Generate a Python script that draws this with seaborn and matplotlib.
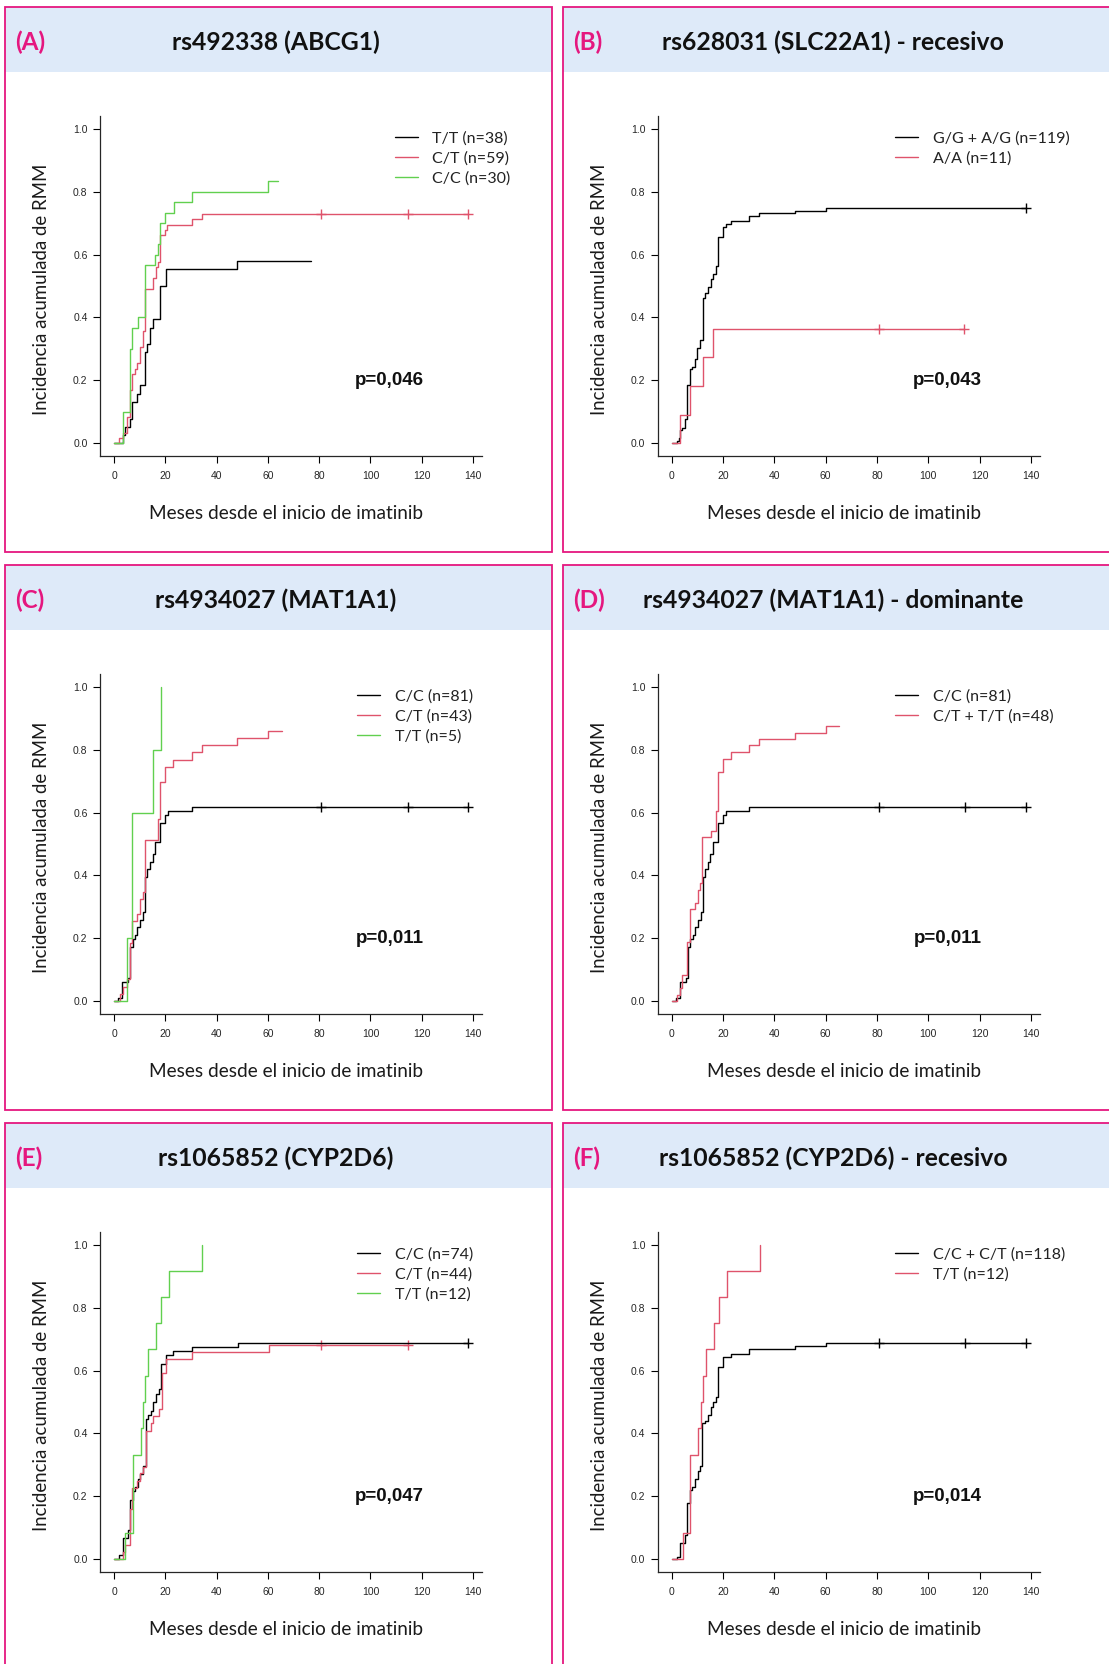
import numpy as np
import matplotlib
matplotlib.use("Agg")
import matplotlib.pyplot as plt
from matplotlib.patches import Rectangle
import seaborn as sns

# Colores (paleta por defecto de R)
NEGRO = "black"
ROJO = "#DF536B"
VERDE = "#61D04F"
ROSA = "#E5177F"
AZUL_CAB = "#DEEAF9"

# ---- Datos leidos de las curvas de incidencia acumulada ----
# (A) rs492338 (ABCG1)
A_TT_time = [0, 3.3, 4.3, 6.1, 7, 8.8, 10.2, 12, 12.7, 13.9, 15, 18, 20.1, 48, 76.7]
A_TT_inc = [0, .026, .053, .079, .132, .158, .184, .289, .316, .368, .395, .5, .553, .579, .579]
A_CT_time = [0, 1.9, 3.6, 5.1, 6.3, 7, 8.1, 9.1, 10.2, 11.2, 12, 15, 16.4, 17.1, 18, 19.8, 20.8, 30.2, 34.3, 138]
A_CT_inc = [0, .017, .034, .085, .17, .22, .237, .254, .305, .356, .492, .525, .56, .576, .661, .678, .695, .712, .729, .729]
A_CT_cens = [80.7, 114.5, 138]
A_CC_time = [0, 3.3, 6.1, 7, 9.2, 12, 16.1, 17.1, 18, 20, 23.3, 30.2, 60.2, 63.9]
A_CC_inc = [0, .1, .3, .367, .4, .567, .6, .633, .7, .733, .767, .8, .833, .833]

# (B) rs628031 (SLC22A1) - recesivo
B_GG_time = [0, 2.1, 2.7, 3, 3.8, 5.1, 6, 6.9, 8, 9.1, 9.9, 11, 12.1, 13, 14, 15.1, 16.1, 17.2, 18, 20,
             21.2, 22.9, 29.9, 34, 48, 60.1, 138]
B_GG_inc = [0, .008, .017, .042, .05, .076, .185, .235, .244, .269, .303, .328, .462, .479, .496, .521, .538,
            .563, .655, .689, .697, .706, .723, .731, .739, .748, .748]
B_GG_cens = [138]
B_AA_time = [0, 3, 7, 12.1, 16.1, 114]
B_AA_inc = [0, .091, .182, .273, .364, .364]
B_AA_cens = [80.7, 114]

# (C) / (D) rs4934027 (MAT1A1)
C_CC_time = [0, 1.7, 3, 5.4, 6.3, 7.2, 8.1, 9.1, 10.2, 11.2, 12, 12.9, 13.9, 15, 16.1, 18, 20, 21.1, 30.2, 138]
C_CC_inc = [0, .012, .062, .074, .173, .198, .21, .235, .259, .284, .395, .42, .444, .469, .506, .568, .593,
            .605, .617, .617]
C_CC_cens = [80.7, 114.5, 138]
C_CT_time = [0, 2.3, 3.3, 5.1, 6.1, 7, 9.1, 10.2, 11.2, 12, 17, 18, 20, 23, 30.2, 34.3, 48.1, 60.2, 65.6]
C_CT_inc = [0, .023, .047, .07, .186, .256, .279, .326, .349, .512, .581, .698, .744, .767, .791, .814, .837,
            .86, .86]
C_TT_time = [0, 5.1, 7, 15.2, 18.3]
C_TT_inc = [0, .2, .6, .8, 1.0]
D_CTTT_time = [0, 2.1, 3, 4.1, 6, 7, 9.1, 10, 11, 11.9, 15.1, 17.2, 18, 20, 23.1, 30.1, 34, 48, 60.1, 65.2]
D_CTTT_inc = [0, .021, .042, .083, .188, .292, .313, .354, .375, .521, .542, .604, .729, .771, .792, .813,
              .833, .854, .875, .875]

# (E) / (F) rs1065852 (CYP2D6)
E_CC_time = [0, 2.1, 3.3, 5.4, 6.3, 7.3, 8.3, 9.2, 10.2, 11.2, 12.3, 13.2, 14.2, 15.3, 16.4, 17.4, 18.2, 20.1,
             23.1, 30.2, 48.5, 138]
E_CC_inc = [0, .014, .068, .095, .189, .216, .23, .257, .27, .297, .446, .459, .473, .5, .527, .541, .622, .649,
            .662, .676, .689, .689]
E_CC_cens = [138]
E_CT_time = [0, 3.3, 4.4, 6.1, 7, 9.1, 10.2, 11.3, 12.3, 14.3, 15.3, 17.4, 18.5, 20.4, 30.2, 60.5, 114.5]
E_CT_inc = [0, .023, .045, .159, .227, .25, .273, .295, .409, .432, .455, .477, .591, .636, .659, .682, .682]
E_CT_cens = [80.7, 114.5]
TT_time = [0, 4.2, 7.2, 10.3, 11.2, 12.2, 13.2, 16.3, 18.3, 21.3, 34.3]
TT_inc = [0, .083, .333, .417, .5, .583, .667, .75, .833, .917, 1.0]
F_CC_time = [0, 2.1, 3, 5.1, 6, 7, 8, 9.1, 10, 11, 11.9, 13, 14, 15.1, 16.1, 17.2, 18, 20, 23.1, 30.1, 48,
             60.1, 138]
F_CC_inc = [0, .008, .051, .076, .178, .22, .229, .254, .28, .297, .432, .441, .458, .483, .5, .517, .61, .644,
            .653, .669, .678, .686, .686]
F_CC_cens = [80.7, 114.5, 138]

etiquetas = ["(A)", "(B)", "(C)", "(D)", "(E)", "(F)"]
titulos = ["rs492338 (ABCG1)", "rs628031 (SLC22A1) - recesivo",
           "rs4934027 (MAT1A1)", "rs4934027 (MAT1A1) - dominante",
           "rs1065852 (CYP2D6)", "rs1065852 (CYP2D6) - recesivo"]
p_valores = ["p=0,046", "p=0,043", "p=0,011", "p=0,011", "p=0,047", "p=0,014"]

paneles = [
    [("T/T (n=38)", A_TT_time, A_TT_inc, [], NEGRO),
     ("C/T (n=59)", A_CT_time, A_CT_inc, A_CT_cens, ROJO),
     ("C/C (n=30)", A_CC_time, A_CC_inc, [], VERDE)],
    [("G/G + A/G (n=119)", B_GG_time, B_GG_inc, B_GG_cens, NEGRO),
     ("A/A (n=11)", B_AA_time, B_AA_inc, B_AA_cens, ROJO)],
    [("C/C (n=81)", C_CC_time, C_CC_inc, C_CC_cens, NEGRO),
     ("C/T (n=43)", C_CT_time, C_CT_inc, [], ROJO),
     ("T/T (n=5)", C_TT_time, C_TT_inc, [], VERDE)],
    [("C/C (n=81)", C_CC_time, C_CC_inc, C_CC_cens, NEGRO),
     ("C/T + T/T (n=48)", D_CTTT_time, D_CTTT_inc, [], ROJO)],
    [("C/C (n=74)", E_CC_time, E_CC_inc, E_CC_cens, NEGRO),
     ("C/T (n=44)", E_CT_time, E_CT_inc, E_CT_cens, ROJO),
     ("T/T (n=12)", TT_time, TT_inc, [], VERDE)],
    [("C/C + C/T (n=118)", F_CC_time, F_CC_inc, F_CC_cens, NEGRO),
     ("T/T (n=12)", TT_time, TT_inc, [], ROJO)],
]
leyenda_x = [0.772, 0.621, 0.673, 0.621, 0.673, 0.621]

sns.set_style("ticks")
plt.rcParams['font.family'] = ['Lato', 'DejaVu Sans']
plt.rcParams['axes.linewidth'] = 0.9

W, H = 1109, 1664
fig = plt.figure(figsize=(W / 100, H / 100), dpi=100)
fig.patch.set_facecolor("white")

col_x = [5, 562.8]
fila_y = [7, 565, 1123]
PW, PH, HCAB = 547, 545, 65

for i in range(6):
    px = col_x[i % 2]
    py = fila_y[i // 2]

    # Marco y cabecera
    fig.add_artist(Rectangle((px / W, 1 - (py + HCAB) / H), PW / W, HCAB / H,
                             transform=fig.transFigure, facecolor=AZUL_CAB, edgecolor="none", zorder=0))
    fig.add_artist(Rectangle((px / W, 1 - (py + PH) / H), PW / W, PH / H,
                             transform=fig.transFigure, fill=False, edgecolor=ROSA, lw=1.3, zorder=1))
    fig.text((px + 10) / W, 1 - (py + 35) / H, etiquetas[i], color=ROSA, fontsize=17.5,
             fontweight="bold", va="center", ha="left")
    fig.text((px + PW / 2 - 3) / W, 1 - (py + 35) / H, titulos[i], color="#111111", fontsize=17.8,
             fontweight="bold", va="center", ha="center")

    ax = fig.add_axes([(px + 95) / W, 1 - (py + 109 + 340) / H, 382 / W, 340 / H])
    ax.set_facecolor("white")

    for etiqueta, t, v, cens, color in paneles[i]:
        sns.lineplot(x=t, y=v, drawstyle="steps-post", color=color, lw=1.0,
                     estimator=None, sort=False, label=etiqueta, ax=ax)
        if cens:
            idx = np.searchsorted(t, cens, side="right") - 1
            sns.scatterplot(x=cens, y=np.array(v)[idx], marker="+", s=45, color=color,
                            linewidth=1.0, ax=ax, legend=False)

    ax.set_xlim(-5.5, 143.5)
    ax.set_ylim(-0.04, 1.04)
    ax.set_xticks(np.arange(0, 141, 20))
    ax.set_yticks(np.arange(0, 1.01, 0.2))
    ax.set_yticklabels([f"{y:.1f}" for y in np.arange(0, 1.01, 0.2)])
    for lab in ax.get_xticklabels() + ax.get_yticklabels():
        lab.set_family("Liberation Sans")
        lab.set_fontsize(7.5)
    ax.tick_params(axis="both", length=5, width=0.8, color="black")
    ax.tick_params(axis="x", pad=6)
    ax.tick_params(axis="y", pad=4)
    sns.despine(ax=ax)

    ax.set_xlabel("Meses desde el inicio de imatinib", fontsize=13.7, color="#1a1a1a")
    ax.set_ylabel("Incidencia acumulada de RMM", fontsize=13.4, color="#1a1a1a")
    ax.xaxis.set_label_coords(0.488, -0.145)
    ax.yaxis.set_label_coords(-0.13, 0.49)

    ax.text(0.758, 0.222, p_valores[i], transform=ax.transAxes, ha="center", va="center",
            fontsize=13.5, fontweight="bold", family="Liberation Sans", color="#111111")

    ax.legend(loc="upper left", bbox_to_anchor=(leyenda_x[i], 0.955), frameon=False,
              fontsize=11.5, handlelength=1.45, handletextpad=0.9, labelspacing=0.36,
              borderpad=0, borderaxespad=0, labelcolor="#222222")

fig.savefig("out.png", dpi=100, facecolor="white")
